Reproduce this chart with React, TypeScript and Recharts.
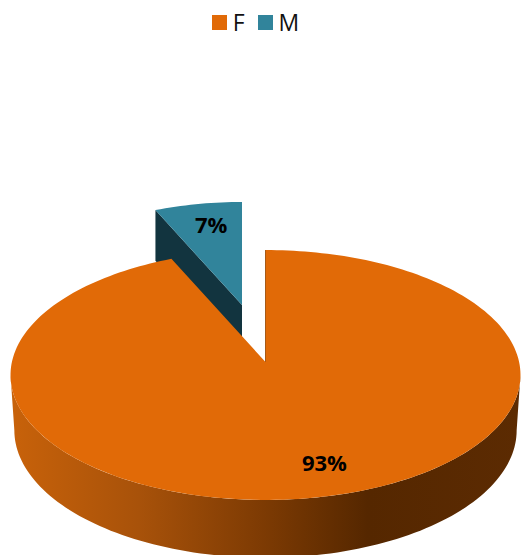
import React from "react";
import { Legend, Pie, PieChart } from "recharts";

const categories = ["F", "M"];
const shares = [93, 7];
const sliceColors = ["#E16A07", "#31849B"];

const FONT = "'Open Sans', sans-serif";

// flat perspective of the disc
const TILT = 0.4874;
const PERSPECTIVE = 0.104;
const FAR_SQUEEZE = 0.945;
const DEPTH = 55;
const SKIRT_X = 0.985;
const SKIRT_Y = 1.02;

// the legend row takes this much off the top of the plot area
const LEGEND_OFFSET = 24;

// how far each slice is pulled out of the disc, plus where its label sits
const sliceLayout: Record<string, any> = {
  F: { dx: 0, dy: 0, scale: 1, labelAngle: -74.3, labelR: 0.79 },
  M: { dx: -23.5, dy: -57, scale: 0.92, labelAngle: 101.4, labelR: 0.763 },
};

const chartData = categories.map((name, i) => ({ name, value: shares[i], fill: sliceColors[i] }));

function project(p: any, layout: any, deg: number, r: number, skirt = false) {
  const a = (deg * Math.PI) / 180;
  const sinA = Math.sin(a);
  // far half of the rim is foreshortened, the points stay on the circle
  const b = sinA > 0 ? Math.atan2(sinA, Math.cos(a) * FAR_SQUEEZE) : a;
  const u = r * Math.cos(b);
  const v = r * Math.sin(b);
  const w = 1 + PERSPECTIVE * v;
  const sx = skirt ? SKIRT_X : 1;
  const sy = skirt ? SKIRT_Y : 1;
  return {
    x: p.cx + layout.dx + (layout.scale * sx * p.outerRadius * u) / w,
    y: p.cy + layout.dy - (layout.scale * sy * p.outerRadius * TILT * v) / w + (skirt ? DEPTH * layout.scale : 0),
  };
}

function sweep(p: any, layout: any, from: number, to: number, skirt = false) {
  const steps = Math.max(2, Math.ceil(Math.abs(to - from) / 1.5));
  const pts = [];
  for (let i = 0; i <= steps; i++) {
    const pt = project(p, layout, from + ((to - from) * i) / steps, 1, skirt);
    pts.push(`${pt.x.toFixed(2)} ${pt.y.toFixed(2)}`);
  }
  return pts;
}

function Slice3D(props: any, only: string) {
  const name = props.payload?.name ?? props.name;
  if (name !== only) return <g />;
  const layout = sliceLayout[name];
  const apex = project(props, layout, 0, 0);
  const top = sweep(props, layout, props.startAngle, props.endAngle);
  const label = project(props, layout, layout.labelAngle, layout.labelR);

  const isMain = name === "F";
  let wall;
  if (isMain) {
    // rounded outer wall along the front of the disc
    const upper = sweep(props, layout, -6, -174);
    const lower = sweep(props, layout, -174, -6, true);
    wall = <path d={`M${upper.join("L")}L${lower.join("L")}Z`} fill="url(#wallShade)" />;
  } else {
    // cut face of the pulled-out slice
    const edge = project(props, layout, props.startAngle, 1);
    const d = DEPTH * layout.scale;
    wall = (
      <path
        d={`M${edge.x} ${edge.y}L${apex.x} ${apex.y}L${apex.x} ${apex.y + d}L${edge.x} ${edge.y + d}Z`}
        fill="#12343F"
      />
    );
  }

  // cut face of the main slice, seen almost edge-on beside the gap
  const rim = project(props, layout, props.startAngle, 1);

  return (
    <g>
      <defs>
        <linearGradient id="wallShade" gradientUnits="userSpaceOnUse" x1={11} x2={521} y1={0} y2={0}>
          <stop offset="0" stopColor="#C8620A" />
          <stop offset="0.25" stopColor="#A8520A" />
          <stop offset="0.5" stopColor="#7C3A03" />
          <stop offset="0.7" stopColor="#552700" />
          <stop offset="1" stopColor="#5C2B02" />
        </linearGradient>
      </defs>
      {wall}
      {isMain && (
        <path d={`M${rim.x} ${rim.y}L${apex.x} ${apex.y}`} stroke="#6B4A2A" strokeWidth={1} fill="none" />
      )}
      <path d={`M${apex.x} ${apex.y}L${top.join("L")}Z`} fill={props.fill} />
      <text
        x={label.x}
        y={label.y - 2}
        textAnchor="middle"
        dominantBaseline="central"
        fontFamily={FONT}
        fontWeight={700}
        fontSize={22}
        fill="#000"
      >
        {`${props.value}%`}
      </text>
    </g>
  );
}

function LegendRow({ payload }: any) {
  const items = (payload ?? []).filter((e: any) => e.type !== "none");
  return (
    <div style={{ display: "flex", justifyContent: "center", fontFamily: FONT, fontSize: 23, color: "#111", lineHeight: "24px" }}>
      {items.map((e: any, i: number) => (
        <span key={e.value} style={{ display: "flex", alignItems: "center", marginLeft: i ? 13 : 0 }}>
          <span style={{ width: 15, height: 15, background: e.color, marginRight: 6 }} />
          {e.value}
        </span>
      ))}
    </div>
  );
}

export default function App() {
  return (
    <div style={{ position: "absolute", left: 0, top: 0, width: 521, height: 555, overflow: "hidden", background: "#fff" }}>
      <PieChart width={521} height={555} margin={{ top: 0, right: 0, bottom: 0, left: 0 }}>
        <Legend
          verticalAlign="top"
          content={<LegendRow />}
          wrapperStyle={{ top: 10, left: 0, width: 511 }}
        />
        {/* the pulled-out slice goes first so the main disc overlaps its cut face */}
        <Pie
          data={chartData}
          dataKey="value"
          nameKey="name"
          cx={265.5}
          cy={362 - LEGEND_OFFSET}
          outerRadius={253.6}
          startAngle={90}
          endAngle={-270}
          stroke="none"
          legendType="none"
          isAnimationActive={false}
          shape={(p: any) => Slice3D(p, "M")}
        />
        <Pie
          data={chartData}
          dataKey="value"
          nameKey="name"
          cx={265.5}
          cy={362 - LEGEND_OFFSET}
          outerRadius={253.6}
          startAngle={90}
          endAngle={-270}
          stroke="none"
          legendType="square"
          isAnimationActive={false}
          shape={(p: any) => Slice3D(p, "F")}
        />
      </PieChart>
    </div>
  );
}
